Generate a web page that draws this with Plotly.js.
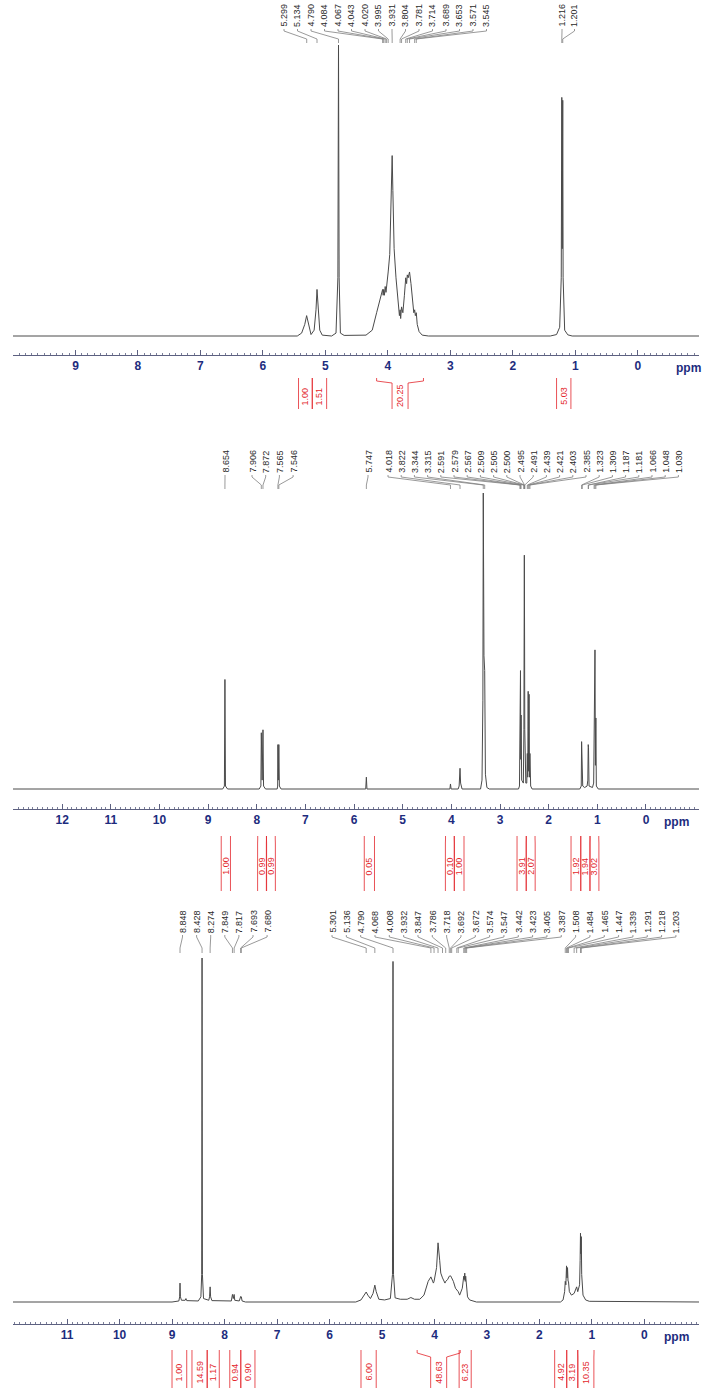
<!DOCTYPE html>
<html>
<head>
<meta charset="utf-8">
<script src="https://cdn.plot.ly/plotly-3.0.1.min.js"></script>
<style>
  html, body { margin: 0; padding: 0; background: #fff; }
  #chart { width: 714px; height: 1399px; }
</style>
</head>
<body>
<div id="chart"></div>
<script>
// Spectrum 1 (traced vertices: ppm, relative intensity, tallest = 100)
const ppm1 = [10.0, 5.45, 5.38, 5.33, 5.30, 5.27, 5.23, 5.18, 5.15, 5.134, 5.12, 5.09, 5.05, 4.90, 4.83, 4.80, 4.79, 4.78, 4.76, 4.70,
  4.35, 4.25, 4.18, 4.12, 4.084, 4.075, 4.067, 4.055, 4.043, 4.030, 4.020, 4.005, 3.995, 3.97, 3.945, 3.931, 3.92, 3.90, 3.87, 3.83,
  3.815, 3.804, 3.795, 3.781, 3.76, 3.735, 3.714, 3.70, 3.689, 3.675, 3.653, 3.63, 3.60, 3.585, 3.571, 3.56, 3.545, 3.53, 3.50, 3.45,
  3.35, 1.40, 1.30, 1.25, 1.225, 1.216, 1.209, 1.201, 1.195, 1.17, 1.12, 1.05, -1.0];
const int1 = [0, 0, 1, 4, 7, 4, 0.5, 2, 9, 16, 10, 2, 0.3, 0, 1, 20, 100, 20, 1, 0.2,
  0.3, 2, 8, 13, 16, 14, 16, 14, 17, 15, 18, 19, 22, 28, 45, 62, 50, 30, 20, 10,
  7, 9, 6, 10, 8, 14, 20, 18, 21, 20, 22, 18, 11, 8, 9, 7, 8, 4, 1.5, 0.3,
  0, 0, 0.5, 3, 20, 82, 30, 81, 20, 2, 0.4, 0, 0];

// Spectrum 2
const ppm2 = [13.05, 8.70, 8.665, 8.654, 8.643, 8.60, 7.95, 7.915, 7.906, 7.889, 7.872, 7.86, 7.82, 7.58, 7.57, 7.565, 7.556, 7.546, 7.535, 7.50,
  5.76, 5.747, 5.735, 4.03, 4.018, 4.005, 3.86, 3.84, 3.822, 3.81, 3.78, 3.40, 3.37, 3.352, 3.344, 3.33, 3.315, 3.30, 3.27, 3.22,
  2.62, 2.60, 2.591, 2.585, 2.579, 2.573, 2.567, 2.555, 2.52, 2.509, 2.505, 2.500, 2.495, 2.491, 2.47, 2.45, 2.439, 2.43, 2.421, 2.412,
  2.403, 2.394, 2.385, 2.37, 2.34, 1.36, 1.33, 1.323, 1.316, 1.309, 1.30, 1.26, 1.21, 1.195, 1.187, 1.184, 1.181, 1.17, 1.10, 1.075,
  1.066, 1.057, 1.048, 1.039, 1.030, 1.02, 0.98, -1.1];
const int2 = [0, 0, 1, 37, 1, 0, 0, 1, 19, 3, 20, 1, 0, 0, 1, 15, 3, 15, 1, 0,
  0, 4, 0, 0, 1.7, 0, 0, 1, 7, 2, 0, 0, 3, 30, 100, 45, 40, 5, 0.5, 0,
  0, 1, 20, 10, 40, 10, 25, 3, 2, 20, 50, 79, 50, 20, 2, 2, 12, 4, 33, 6,
  32, 4, 12, 1, 0, 0, 1, 16, 5, 16, 1, 0.5, 1, 3, 15, 8, 14, 1, 0.5, 2,
  24, 8, 47, 8, 24, 1, 0, 0];

// Spectrum 3
const ppm3 = [12.05, 9.0, 8.87, 8.855, 8.848, 8.84, 8.82, 8.75, 8.735, 8.72, 8.50, 8.45, 8.435, 8.428, 8.421, 8.40, 8.30, 8.285, 8.274, 8.265,
  8.24, 7.87, 7.855, 7.849, 7.833, 7.817, 7.805, 7.72, 7.70, 7.693, 7.686, 7.680, 7.665, 7.60, 5.50, 5.40, 5.33, 5.301, 5.27, 5.22,
  5.17, 5.136, 5.11, 5.06, 4.95, 4.84, 4.80, 4.790, 4.78, 4.75, 4.65, 4.52, 4.45, 4.38, 4.28, 4.20, 4.12, 4.068, 4.02, 4.008,
  3.96, 3.932, 3.90, 3.88, 3.847, 3.80, 3.786, 3.75, 3.718, 3.692, 3.672, 3.64, 3.60, 3.574, 3.547, 3.52, 3.47, 3.442, 3.432, 3.423,
  3.414, 3.405, 3.387, 3.37, 3.33, 3.20, 1.60, 1.55, 1.52, 1.508, 1.496, 1.484, 1.474, 1.465, 1.455, 1.447, 1.43, 1.39, 1.339, 1.31,
  1.291, 1.27, 1.235, 1.225, 1.218, 1.21, 1.203, 1.195, 1.17, 1.12, 1.05, -1.05];
const int3 = [0, 0, 0.3, 1.5, 5.5, 1.5, 0.5, 0.5, 1, 0.4, 0.3, 1.5, 8, 100, 8, 1, 0.5, 1.5, 4.4, 1.5,
  0.4, 0.3, 1.5, 2.2, 1, 2.2, 0.5, 0.3, 1.2, 1.6, 1.3, 1.5, 0.3, 0, 0, 0.6, 2.2, 2.9, 2, 1,
  2.5, 4.9, 3, 0.8, 0.6, 1, 8, 99, 8, 1.2, 0.8, 0.8, 1.3, 0.8, 0.8, 2, 6, 7.3, 5.5, 6,
  10, 17.2, 12, 8.4, 7, 5.5, 6, 6.5, 7.5, 7.6, 7, 6, 4, 3.5, 3, 2, 4, 7.5, 6.5, 8.4,
  6, 7.5, 4, 1.5, 0.6, 0, 0, 0.6, 3, 6, 5, 10.5, 7, 10, 6, 6, 3, 2, 2.5, 3.5,
  4.4, 3, 5, 12, 20, 14, 19, 8, 2, 0.6, 0.2, 0];

// Axis tick labels
const ticks1 = [0, 1, 2, 3, 4, 5, 6, 7, 8, 9];
const ticks2 = [0, 1, 2, 3, 4, 5, 6, 7, 8, 9, 10, 11, 12];
const ticks3 = [0, 1, 2, 3, 4, 5, 6, 7, 8, 9, 10, 11];

// Peak labels (ppm), by group
const peaks1a = [5.299, 5.134, 4.790, 4.084, 4.067, 4.043, 4.020, 3.995, 3.931, 3.804, 3.781, 3.714, 3.689, 3.653, 3.571, 3.545];
const peaks1b = [1.216, 1.201];
const peaks2a = [8.654];
const peaks2b = [7.906, 7.872, 7.565, 7.546];
const peaks2c = [5.747];
const peaks2d = [4.018, 3.822, 3.344, 3.315, 2.591, 2.579, 2.567, 2.509, 2.505, 2.500, 2.495, 2.491, 2.439, 2.421, 2.403, 2.385,
  1.323, 1.309, 1.187, 1.181, 1.066, 1.048, 1.030];
const peaks3a = [8.848, 8.428, 8.274, 7.849, 7.817, 7.693, 7.680];
const peaks3b = [5.301, 5.136, 4.790, 4.068, 4.008, 3.932, 3.847, 3.786, 3.718, 3.692, 3.672, 3.574, 3.547, 3.442, 3.423, 3.405,
  3.387, 1.508, 1.484, 1.465, 1.447, 1.339, 1.291, 1.218, 1.203];

// Integrals: region start, region end (ppm), value
const intFrom1 = [5.43, 5.21, 4.18, 1.30];
const intTo1 = [5.21, 4.98, 3.43, 1.07];
const intVal1 = ['1.00', '1.51', '20.25', '5.03'];
const intFrom2 = [8.73, 7.98, 7.80, 5.79, 4.12, 3.94, 2.65, 2.46, 1.54, 1.34, 1.15];
const intTo2 = [8.54, 7.80, 7.62, 5.58, 3.94, 3.74, 2.46, 2.28, 1.34, 1.15, 0.97];
const intVal2 = ['1.00', '0.99', '0.99', '0.05', '0.10', '1.00', '3.91', '2.07', '1.92', '1.94', '3.02'];
const intFrom3 = [9.00, 8.62, 8.33, 7.90, 7.69, 5.40, 4.33, 3.53, 1.71, 1.48, 1.27];
const intTo3 = [8.72, 8.33, 8.10, 7.69, 7.42, 5.11, 3.51, 3.30, 1.48, 1.27, 0.96];
const intVal3 = ['1.00', '14.59', '1.17', '0.94', '0.90', '6.00', '48.63', '6.23', '4.92', '3.19', '10.35'];

const W = 714, H = 1399;
const plotLeft = 13, plotRight = 699;
const navy = '#1d2c7e';
const red = '#e3262c';

// panel geometry in page pixels
const panels = [
  { id: '', range: [10.0, -0.98], axisY: 355, baseY: 336, topY: 45,
    ppm: ppm1, intensity: int1, ticks: ticks1, ppmX: 688,
    groups: [[peaks1a, 284, 13.5], [peaks1b, 562, 12.5]], lead: [28, 31, 39, 43],
    integrals: [intFrom1, intTo1, intVal1], intY: [378, 383, 409, 396] },
  { id: '2', range: [13.01, -1.09], axisY: 809, baseY: 789, topY: 493,
    ppm: ppm2, intensity: int2, ticks: ticks2, ppmX: 676,
    groups: [[peaks2a, 225, 0], [peaks2b, 252, 13.7], [peaks2c, 368, 0], [peaks2d, 388, 13.2]], lead: [474, 477, 485, 489],
    integrals: [intFrom2, intTo2, intVal2], intY: [836, 843, 891, 866] },
  { id: '3', range: [12.03, -1.04], axisY: 1324, baseY: 1302, topY: 958,
    ppm: ppm3, intensity: int3, ticks: ticks3, ppmX: 676,
    groups: [[peaks3a, 182.5, 14.1], [peaks3b, 332, 14.33]], lead: [934, 937, 948, 953],
    integrals: [intFrom3, intTo3, intVal3], intY: [1350, 1357, 1388, 1372] }
];

function paperY(py) { return 1 - py / H; }
function pxToPpm(p, px) { return p.range[0] + (px - plotLeft) / (plotRight - plotLeft) * (p.range[1] - p.range[0]); }
function ppmToPx(p, v) { return plotLeft + (v - p.range[0]) / (p.range[1] - p.range[0]) * (plotRight - plotLeft); }

const traces = [];
const shapes = [];
const annotations = [];
const layout = {
  width: W, height: H,
  margin: { l: 0, r: 0, t: 0, b: 0 },
  paper_bgcolor: '#fff', plot_bgcolor: 'rgba(0,0,0,0)',
  showlegend: false,
  font: { family: 'Liberation Sans, Arial, sans-serif' }
};

panels.forEach(p => {
  const xName = 'xaxis' + p.id, yName = 'yaxis' + p.id;
  const xRef = 'x' + p.id;
  const upp = 100 / (p.baseY - p.topY);

  traces.push({
    x: p.ppm, y: p.intensity, xaxis: xRef, yaxis: 'y' + p.id,
    type: 'scatter', mode: 'lines', hoverinfo: 'skip',
    line: { color: '#4a4a4a', width: 1 }
  });

  layout[xName] = {
    domain: [plotLeft / W, plotRight / W], anchor: 'y' + p.id,
    range: p.range, showgrid: false, zeroline: false,
    showline: true, linecolor: '#5c6080', linewidth: 1,
    tickmode: 'array', tickvals: p.ticks, ticktext: p.ticks.map(String),
    ticks: 'inside', ticklen: 5, tickcolor: '#5c6080',
    minor: { dtick: 0.1, ticks: 'inside', ticklen: 2.5, tickcolor: '#7a7e98' },
    tickfont: { size: 12, color: navy, weight: 'bold', family: 'Liberation Sans, Arial, sans-serif' }
  };
  layout[yName] = {
    domain: [paperY(p.axisY), paperY(p.topY)], anchor: xRef,
    range: [-(p.axisY - p.baseY) * upp, 100],
    visible: false, showgrid: false, zeroline: false
  };

  // "ppm" unit label
  annotations.push({
    xref: 'paper', yref: 'paper', x: p.ppmX / W, y: paperY(p.axisY + 13),
    text: 'ppm', showarrow: false, xanchor: 'center', yanchor: 'middle',
    font: { size: 12, color: navy, weight: 'bold' }
  });

  // peak labels with leader lines
  p.groups.forEach(([vals, start, step]) => {
    vals.forEach((v, i) => {
      const lx = pxToPpm(p, start + i * step);
      annotations.push({
        xref: xRef, yref: 'paper', x: lx, y: paperY(p.lead[0]),
        text: v.toFixed(3), textangle: -90, showarrow: false,
        xanchor: 'center', yanchor: 'bottom', borderpad: 0,
        font: { size: 9, color: '#2a2a2a' }
      });
      shapes.push({
        type: 'path', xref: xRef, yref: 'paper',
        path: `M ${lx},${paperY(p.lead[0] + 1)} L ${lx},${paperY(p.lead[1])} L ${v},${paperY(p.lead[2])} L ${v},${paperY(p.lead[3])}`,
        line: { color: '#808080', width: 0.8 }
      });
    });
  });

  // integral brackets
  const [from, to, vals] = p.integrals;
  const [top, knee, bottom, labelY] = p.intY;
  vals.forEach((val, i) => {
    const pa = ppmToPx(p, from[i]), pb = ppmToPx(p, to[i]);
    const c = (pa + pb) / 2;
    const half = Math.max(4.5, Math.min((pb - pa) / 2, 8));
    const bl = pxToPpm(p, c - half), br = pxToPpm(p, c + half);
    [[from[i], bl], [to[i], br]].forEach(([edge, box]) => {
      shapes.push({
        type: 'path', xref: xRef, yref: 'paper',
        path: `M ${edge},${paperY(top)} L ${edge},${paperY(top + 3)} L ${box},${paperY(knee)} L ${box},${paperY(bottom)}`,
        line: { color: red, width: 0.8 }
      });
    });
    annotations.push({
      xref: xRef, yref: 'paper', x: pxToPpm(p, c), y: paperY(labelY),
      text: val, textangle: -90, showarrow: false,
      xanchor: 'center', yanchor: 'middle', borderpad: 0,
      font: { size: 9, color: red }
    });
  });
});

layout.shapes = shapes;
layout.annotations = annotations;

Plotly.newPlot('chart', traces, layout, { staticPlot: true, displayModeBar: false });
</script>
</body>
</html>
